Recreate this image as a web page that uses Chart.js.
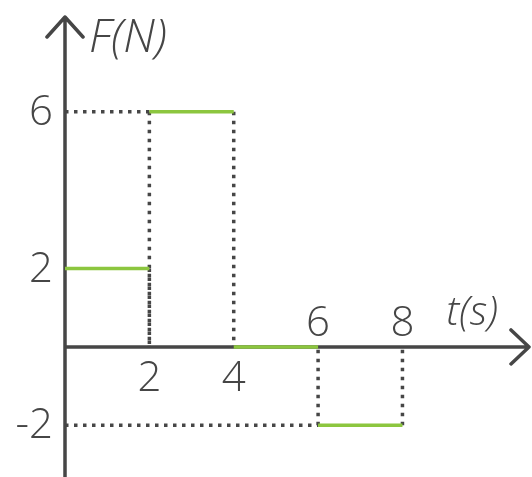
<!DOCTYPE html>
<html>
<head>
<meta charset="utf-8">
<script src="https://cdn.jsdelivr.net/npm/chart.js@4.4.0/dist/chart.umd.min.js"></script>
<style>
  html, body { margin: 0; padding: 0; background: #fff; }
  #wrap { width: 532px; height: 477px; position: relative; }
</style>
</head>
<body>
<div id="wrap"><canvas id="c"></canvas></div>
<script>
// step segments of F(t): [t start, t end, F]
const segStart = [0, 2, 4, 6]
const segEnd = [2, 4, 6, 8]
const segForce = [2, 6, 0, -2]

const yTicks = [6, 2, -2]
const xTicks = [2, 4, 6, 8]
const xLabel = 't(s)'
const yLabel = 'F(N)'

const green = '#8cc63f'
const ink = '#464646'
const font = '"Open Sans", "DejaVu Sans", sans-serif'

// a tick label goes above the axis when a negative segment touches it
function labelAbove(t) {
    for (let i = 0; i < segStart.length; i++) {
        if (segForce[i] < 0 && (segStart[i] === t || segEnd[i] === t)) return true
    }
    return false
}

let datasets = []

// dotted guides: horizontal from axis to segment, vertical from segment ends to axis
let guides = []
for (let i = 0; i < segStart.length; i++) {
    let f = segForce[i]
    if (f === 0) continue
    if (segStart[i] > 0) {
        guides.push([{x: 0, y: f}, {x: segStart[i], y: f}])
        guides.push([{x: segStart[i], y: f}, {x: segStart[i], y: 0}])
    }
    guides.push([{x: segEnd[i], y: f}, {x: segEnd[i], y: 0}])
}
guides.forEach(g => {
    datasets.push({
        data: g,
        borderColor: ink,
        borderWidth: 3.5,
        borderDash: [3.5, 5.5],
        borderCapStyle: 'butt',
        pointRadius: 0,
        order: 2
    })
})

for (let i = 0; i < segStart.length; i++) {
    datasets.push({
        data: [{x: segStart[i], y: segForce[i]}, {x: segEnd[i], y: segForce[i]}],
        borderColor: green,
        borderWidth: 3.5,
        pointRadius: 0,
        order: 1
    })
}

const axesPlugin = {
    id: 'axes',
    beforeDatasetsDraw(chart) {
        const ctx = chart.ctx
        const xs = chart.scales.x, ys = chart.scales.y
        const x0 = xs.getPixelForValue(0), y0 = ys.getPixelForValue(0)
        const right = chart.chartArea.right, top = chart.chartArea.top
        const bottom = chart.chartArea.bottom
        ctx.save()
        ctx.strokeStyle = ink
        ctx.lineWidth = 3.5
        ctx.lineCap = 'round'
        ctx.lineJoin = 'round'
        ctx.beginPath()
        ctx.moveTo(x0, bottom + 5)
        ctx.lineTo(x0, top)
        ctx.moveTo(x0 - 18, top + 20)
        ctx.lineTo(x0, top)
        ctx.lineTo(x0 + 18, top + 20)
        ctx.moveTo(x0, y0)
        ctx.lineTo(right, y0)
        ctx.moveTo(right - 18, y0 - 17)
        ctx.lineTo(right, y0)
        ctx.lineTo(right - 18, y0 + 17)
        ctx.stroke()

        ctx.fillStyle = ink
        ctx.font = '300 42px ' + font
        ctx.textBaseline = 'middle'
        ctx.textAlign = 'right'
        yTicks.forEach(v => ctx.fillText(String(v), x0 - 12, ys.getPixelForValue(v) + 1))
        ctx.textAlign = 'center'
        xTicks.forEach(v => {
            ctx.fillText(String(v), xs.getPixelForValue(v), labelAbove(v) ? y0 - 23 : y0 + 32)
        })
        ctx.font = 'italic 300 41px ' + font
        ctx.fillText(xLabel, xs.getPixelForValue(9.65), y0 - 34)
        ctx.font = 'italic 300 46px ' + font
        ctx.textAlign = 'left'
        ctx.fillText(yLabel, x0 + 24, top + 22)
        ctx.restore()
    }
}

new Chart(document.getElementById('c'), {
    type: 'line',
    data: { datasets: datasets },
    options: {
        responsive: true,
        maintainAspectRatio: false,
        animation: false,
        layout: { padding: { left: 65, right: 3, top: 17, bottom: 0 } },
        plugins: { legend: { display: false }, tooltip: { enabled: false } },
        scales: {
            x: { type: 'linear', min: 0, max: 11, display: false },
            y: { type: 'linear', min: -3.32, max: 8.42, display: false }
        }
    },
    plugins: [axesPlugin]
})
</script>
</body>
</html>
